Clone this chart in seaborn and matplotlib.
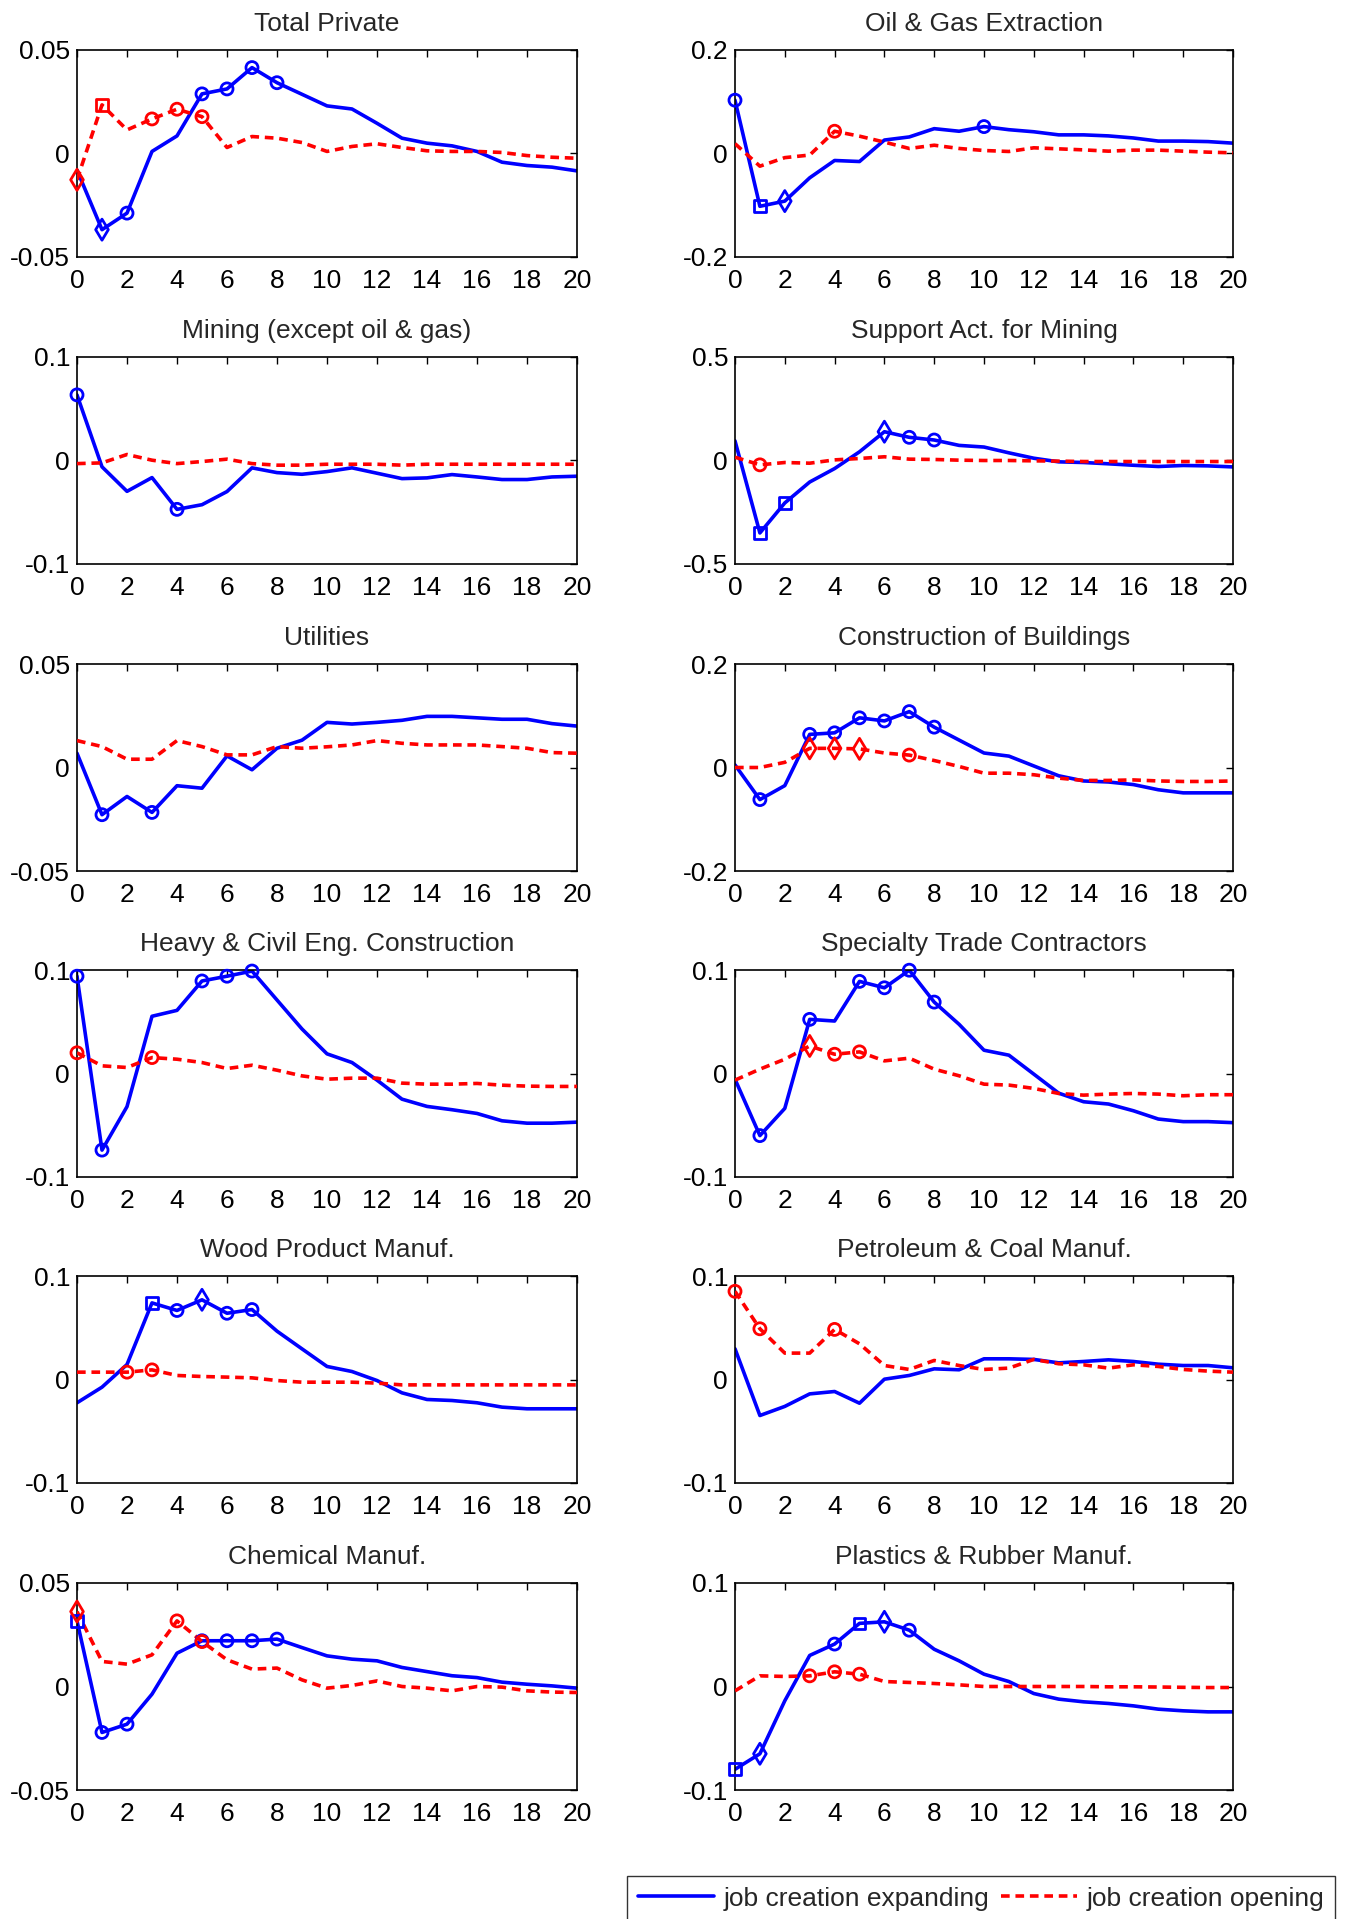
import numpy as np
import pandas as pd
import matplotlib
matplotlib.use("Agg")
import matplotlib.pyplot as plt
from matplotlib.lines import Line2D
import seaborn as sns

# Horizon (quarters after the shock)
horizon = list(range(21))

titles = [
    "Total Private", "Oil & Gas Extraction",
    "Mining (except oil & gas)", "Support Act. for Mining",
    "Utilities", "Construction of Buildings",
    "Heavy & Civil Eng. Construction", "Specialty Trade Contractors",
    "Wood Product Manuf.", "Petroleum & Coal Manuf.",
    "Chemical Manuf.", "Plastics & Rubber Manuf.",
]
y_limits = [0.05, 0.2, 0.1, 0.5, 0.05, 0.2, 0.1, 0.1, 0.1, 0.1, 0.05, 0.1]

# Job creation at expanding establishments
total_private_exp = [-0.008, -0.0368, -0.0288, 0.001, 0.0085, 0.0288, 0.0312, 0.0415, 0.0342, 0.0286,
                     0.023, 0.0215, 0.0146, 0.0074, 0.005, 0.0037, 0.001, -0.0042, -0.0058, -0.0066, -0.0084]
oil_gas_exp = [0.103, -0.102, -0.092, -0.047, -0.0135, -0.0155, 0.026, 0.032, 0.048, 0.043,
               0.052, 0.046, 0.042, 0.036, 0.036, 0.034, 0.030, 0.024, 0.024, 0.023, 0.020]
mining_exp = [0.0634, -0.0061, -0.0298, -0.0165, -0.0472, -0.0427, -0.030, -0.0071, -0.0117, -0.0133,
              -0.0107, -0.0071, -0.0123, -0.0175, -0.0168, -0.0136, -0.0159, -0.0184, -0.0184, -0.0159, -0.0152]
support_exp = [0.095, -0.350, -0.205, -0.104, -0.039, 0.042, 0.139, 0.112, 0.099, 0.073,
               0.065, 0.037, 0.011, -0.0065, -0.0097, -0.016, -0.023, -0.029, -0.024, -0.026, -0.031]
utilities_exp = [0.0069, -0.0228, -0.014, -0.0217, -0.0088, -0.010, 0.0056, -0.0011, 0.0093, 0.0132,
                 0.0218, 0.021, 0.0218, 0.0228, 0.0247, 0.0247, 0.024, 0.0233, 0.0233, 0.0212, 0.020]
buildings_exp = [0.005, -0.062, -0.035, 0.064, 0.067, 0.096, 0.090, 0.108, 0.078, 0.053,
                 0.028, 0.022, 0.003, -0.016, -0.026, -0.028, -0.033, -0.043, -0.049, -0.049, -0.049]
heavy_civil_exp = [0.094, -0.074, -0.032, 0.0553, 0.061, 0.0894, 0.094, 0.099, 0.071, 0.043,
                   0.019, 0.0106, -0.0064, -0.0248, -0.0318, -0.035, -0.0386, -0.0457, -0.048, -0.048, -0.047]
specialty_exp = [-0.0055, -0.060, -0.0337, 0.0523, 0.0507, 0.089, 0.0828, 0.0998, 0.069, 0.0475,
                 0.0225, 0.0177, -0.0006, -0.019, -0.0273, -0.0295, -0.036, -0.044, -0.0465, -0.0465, -0.0475]
wood_exp = [-0.0225, -0.0074, 0.0145, 0.074, 0.0667, 0.077, 0.064, 0.0676, 0.0467, 0.0296,
            0.0126, 0.0077, -0.001, -0.0129, -0.0193, -0.0203, -0.0225, -0.0267, -0.0283, -0.0283, -0.0283]
petroleum_exp = [0.0297, -0.0348, -0.026, -0.0139, -0.0116, -0.0229, 0.0003, 0.0039, 0.0103, 0.0094,
                 0.020, 0.020, 0.0194, 0.0161, 0.0174, 0.019, 0.0174, 0.0148, 0.0135, 0.0135, 0.0113]
chemical_exp = [0.0317, -0.0222, -0.0182, -0.0037, 0.0161, 0.0221, 0.0221, 0.0221, 0.0229, 0.0188,
                0.0148, 0.0132, 0.0124, 0.0092, 0.0072, 0.0052, 0.0043, 0.0021, 0.0011, 0.0003, -0.0008]
plastics_exp = [-0.080, -0.065, -0.0138, 0.030, 0.041, 0.061, 0.0625, 0.0544, 0.036, 0.0248,
                0.0119, 0.0048, -0.0068, -0.0122, -0.0148, -0.0164, -0.0187, -0.0219, -0.0235, -0.0245, -0.0245]

# Job creation at opening establishments
total_private_open = [-0.0127, 0.0235, 0.0114, 0.0167, 0.0214, 0.0178, 0.0029, 0.0082, 0.0074, 0.0053,
                      0.001, 0.0034, 0.0047, 0.0029, 0.0013, 0.001, 0.001, 0.0005, -0.001, -0.0018, -0.0023]
oil_gas_open = [0.019, -0.0245, -0.008, -0.003, 0.043, 0.0335, 0.022, 0.0097, 0.016, 0.0097,
                0.0058, 0.0039, 0.011, 0.009, 0.007, 0.0045, 0.0065, 0.0065, 0.0045, 0.0026, 0.0013]
mining_open = [-0.003, -0.0023, 0.0058, 0.0003, -0.003, -0.001, 0.0013, -0.003, -0.0045, -0.0045,
               -0.0036, -0.0036, -0.0036, -0.0045, -0.0036, -0.0036, -0.0036, -0.0036, -0.0036, -0.0036, -0.0036]
support_open = [0.016, -0.021, -0.0097, -0.013, 0.003, 0.0097, 0.018, 0.0065, 0.005, 0.0016,
                0.0, 0.0, -0.0016, -0.003, -0.005, -0.005, -0.005, -0.005, -0.005, -0.005, -0.005]
utilities_open = [0.013, 0.0101, 0.004, 0.004, 0.013, 0.0101, 0.0061, 0.0061, 0.0101, 0.0093,
                  0.010, 0.0109, 0.013, 0.0117, 0.0109, 0.0109, 0.0109, 0.0101, 0.0093, 0.0072, 0.0069]
buildings_open = [0.0, 0.0, 0.010, 0.037, 0.037, 0.036, 0.028, 0.024, 0.0135, 0.002,
                  -0.011, -0.011, -0.014, -0.0205, -0.025, -0.025, -0.024, -0.026, -0.027, -0.027, -0.026]
heavy_civil_open = [0.020, 0.0074, 0.0058, 0.0154, 0.0138, 0.0106, 0.0048, 0.008, 0.0032, -0.0023,
                    -0.0055, -0.0045, -0.0045, -0.0093, -0.0103, -0.0103, -0.0096, -0.0113, -0.0122, -0.0125, -0.0125]
specialty_open = [-0.0064, 0.0042, 0.0138, 0.0266, 0.0186, 0.0209, 0.0122, 0.0148, 0.0042, -0.0022,
                  -0.0103, -0.0112, -0.0144, -0.0193, -0.0209, -0.0199, -0.0193, -0.0199, -0.0215, -0.0205, -0.0205]
wood_open = [0.0071, 0.0071, 0.0071, 0.0093, 0.0039, 0.0029, 0.0023, 0.0016, -0.001, -0.0026,
             -0.0026, -0.0026, -0.0035, -0.0052, -0.0052, -0.0052, -0.0052, -0.0052, -0.0052, -0.0052, -0.0052]
petroleum_open = [0.0852, 0.049, 0.0255, 0.0255, 0.0484, 0.0345, 0.0135, 0.0097, 0.0184, 0.0135,
                  0.0097, 0.011, 0.0194, 0.0152, 0.0142, 0.011, 0.0142, 0.0126, 0.0097, 0.0081, 0.0071]
chemical_open = [0.0362, 0.0121, 0.0108, 0.0153, 0.0317, 0.0217, 0.0129, 0.0084, 0.0089, 0.0032,
                 -0.0008, 0.0005, 0.0027, 0.0, -0.0008, -0.0021, 0.0, -0.0003, -0.0021, -0.0027, -0.0029]
plastics_open = [-0.0042, 0.0103, 0.0097, 0.0103, 0.0142, 0.0119, 0.0048, 0.0039, 0.0029, 0.0016,
                 0.0, 0.0, 0.0, 0.0, 0.0, -0.0003, -0.0003, -0.0005, -0.0008, -0.001, -0.001]

# Significance markers: horizon -> marker symbol
total_private_exp_marks = {1: "d", 2: "o", 5: "o", 6: "o", 7: "o", 8: "o"}
oil_gas_exp_marks = {0: "o", 1: "s", 2: "d", 10: "o"}
mining_exp_marks = {0: "o", 4: "o"}
support_exp_marks = {1: "s", 2: "s", 6: "d", 7: "o", 8: "o"}
utilities_exp_marks = {1: "o", 3: "o"}
buildings_exp_marks = {1: "o", 3: "o", 4: "o", 5: "o", 6: "o", 7: "o", 8: "o"}
heavy_civil_exp_marks = {0: "o", 1: "o", 5: "o", 6: "o", 7: "o"}
specialty_exp_marks = {1: "o", 3: "o", 5: "o", 6: "o", 7: "o", 8: "o"}
wood_exp_marks = {3: "s", 4: "o", 5: "d", 6: "o", 7: "o"}
petroleum_exp_marks = {}
chemical_exp_marks = {0: "s", 1: "o", 2: "o", 5: "o", 6: "o", 7: "o", 8: "o"}
plastics_exp_marks = {0: "s", 1: "d", 4: "o", 5: "s", 6: "d", 7: "o"}

total_private_open_marks = {0: "d", 1: "s", 3: "o", 4: "o", 5: "o"}
oil_gas_open_marks = {4: "o"}
mining_open_marks = {}
support_open_marks = {1: "o"}
utilities_open_marks = {}
buildings_open_marks = {3: "d", 4: "d", 5: "d", 7: "o"}
heavy_civil_open_marks = {0: "o", 3: "o"}
specialty_open_marks = {3: "d", 4: "o", 5: "o"}
wood_open_marks = {2: "o", 3: "o"}
petroleum_open_marks = {0: "o", 1: "o", 4: "o"}
chemical_open_marks = {0: "d", 4: "o", 5: "o"}
plastics_open_marks = {3: "o", 4: "o", 5: "o"}

expanding = [total_private_exp, oil_gas_exp, mining_exp, support_exp, utilities_exp, buildings_exp,
             heavy_civil_exp, specialty_exp, wood_exp, petroleum_exp, chemical_exp, plastics_exp]
opening = [total_private_open, oil_gas_open, mining_open, support_open, utilities_open, buildings_open,
           heavy_civil_open, specialty_open, wood_open, petroleum_open, chemical_open, plastics_open]
expanding_marks = [total_private_exp_marks, oil_gas_exp_marks, mining_exp_marks, support_exp_marks,
                   utilities_exp_marks, buildings_exp_marks, heavy_civil_exp_marks, specialty_exp_marks,
                   wood_exp_marks, petroleum_exp_marks, chemical_exp_marks, plastics_exp_marks]
opening_marks = [total_private_open_marks, oil_gas_open_marks, mining_open_marks, support_open_marks,
                 utilities_open_marks, buildings_open_marks, heavy_civil_open_marks, specialty_open_marks,
                 wood_open_marks, petroleum_open_marks, chemical_open_marks, plastics_open_marks]

legend_labels = ["job creation expanding", "job creation opening"]
x_ticks = list(range(0, 21, 2))

sns.set_style("white")
plt.rcParams["font.family"] = ["Liberation Sans", "DejaVu Sans"]
plt.rcParams["axes.unicode_minus"] = False
FS = 19

BLUE = (0, 0, 1)
RED = (1, 0, 0)
LW = 2.6
DASH = (0, (2.4, 1.6))

fig = plt.figure(figsize=(13.48, 19.19), dpi=100)
fig.patch.set_facecolor("white")

W, H = 1348, 1919
col_left = [77, 735]
col_width = [500, 498]
row_top = [50, 357, 664, 970, 1276, 1583]
ax_h = 207


def draw_marks(ax, values, marks, color):
    groups = {}
    for k, m in marks.items():
        groups.setdefault(m, []).append(k)
    for m, idx in groups.items():
        size = {"o": 75, "s": 70, "d": 115}[m]
        sns.scatterplot(x=[horizon[i] for i in idx], y=[values[i] for i in idx],
                        marker=m, s=size, facecolor="none", edgecolor=color,
                        linewidth=2.0, ax=ax, zorder=4, legend=False, clip_on=False)


for i, title in enumerate(titles):
    r, c = divmod(i, 2)
    left = col_left[c] / W
    bottom = 1 - (row_top[r] + ax_h) / H
    ax = fig.add_axes([left, bottom, col_width[c] / W, ax_h / H])

    sns.lineplot(x=horizon, y=expanding[i], color=BLUE, lw=LW, ax=ax, zorder=2)
    sns.lineplot(x=horizon, y=opening[i], color=RED, lw=LW, linestyle=DASH, ax=ax, zorder=3)
    draw_marks(ax, expanding[i], expanding_marks[i], BLUE)
    draw_marks(ax, opening[i], opening_marks[i], RED)

    lim = y_limits[i]
    ax.set_xlim(0, 20)
    ax.set_ylim(-lim, lim)
    ax.set_xticks(x_ticks)
    ax.set_xticklabels([str(t) for t in x_ticks])
    y_ticks = [-lim, 0, lim]
    ax.set_yticks(y_ticks)
    ax.set_yticklabels([f"{v:g}" for v in y_ticks])
    ax.tick_params(direction="in", top=True, right=True, length=5, width=1,
                   labelsize=FS, colors="black")
    ax.tick_params(axis="x", pad=8.5)
    ax.tick_params(axis="y", pad=5)
    for sp in ax.spines.values():
        sp.set_visible(True)
        sp.set_color("black")
        sp.set_linewidth(1.2)
    ax.set_xlabel("")
    ax.set_ylabel("")
    ax.set_title(title, fontsize=FS, pad=14)

handles = [Line2D([], [], color=BLUE, lw=LW),
           Line2D([], [], color=RED, lw=LW, linestyle=DASH)]
leg = fig.legend(handles, legend_labels, loc="upper right",
                 bbox_to_anchor=(1335 / W, 1 - 1876 / H), ncol=2, fontsize=FS,
                 frameon=True, fancybox=False, handlelength=2.9, handletextpad=0.35,
                 columnspacing=0.45, borderpad=0.4, borderaxespad=0)
leg.get_frame().set_edgecolor("black")
leg.get_frame().set_linewidth(1.0)

fig.savefig("out.png", dpi=100, facecolor="white")
